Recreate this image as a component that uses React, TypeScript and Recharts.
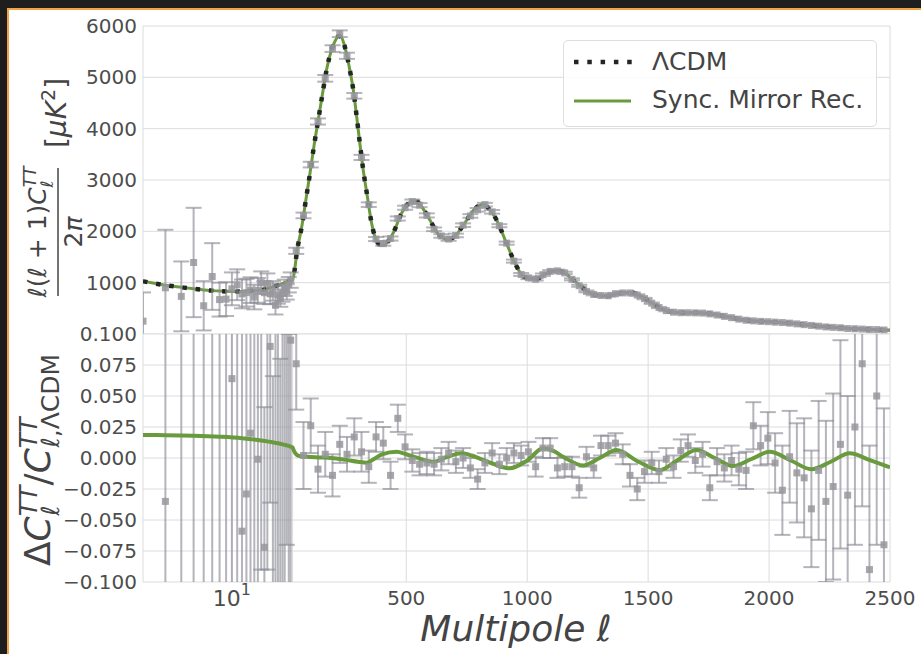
import React from "react"
import { ComposedChart, Line, Scatter, XAxis, YAxis, CartesianGrid, ErrorBar } from "recharts"

// hybrid multipole axis: log for 2 <= l <= 30, linear for 30 < l <= 2500
const SPLIT = 30
const LOG_W = 149.6
const LIN_W = 597.4
const toU = (l: number) =>
  l <= SPLIT ? (LOG_W * Math.log10(l / 2)) / Math.log10(SPLIT / 2) : LOG_W + ((l - SPLIT) * LIN_W) / (2500 - SPLIT)
const U_MAX = toU(2500)

const tickEll = [2, 10, 30, 500, 1000, 1500, 2000, 2500]
const tickText = ["", "10^1", "", "500", "1000", "1500", "2000", "2500"]
const ttTicks = [0, 1000, 2000, 3000, 4000, 5000, 6000]
const resTicks = [-0.1, -0.075, -0.05, -0.025, 0, 0.025, 0.05, 0.075, 0.1]

// LCDM best fit D_l (the mirror model sits on top of it in this panel)
const lcdmEll = [
  2, 3, 4, 5, 6, 7, 8, 10, 12, 14, 16, 18, 20, 22, 25, 28, 30, 40, 47, 60, 68, 85, 102, 118, 136, 154, 173, 190, 205,
  220, 230, 246, 264, 281, 295, 308, 322, 339, 354, 370, 391, 410, 419, 446, 481, 522, 540, 563, 597, 630, 671, 700, 740,
  780, 818, 845, 873, 914, 956, 983, 1003, 1038, 1080, 1121, 1150, 1189, 1225, 1258, 1290, 1327, 1370, 1424, 1460, 1493,
  1530, 1561, 1610, 1658, 1700, 1754, 1800, 1850, 1900, 1947, 2000, 2043, 2090, 2140, 2190, 2236, 2280, 2332, 2380, 2429,
  2500,
]
const lcdmTT = [
  1026, 950, 910, 880, 858, 845, 836, 828, 830, 838, 850, 868, 900, 935, 985, 1030, 1060, 1300, 1578, 1900, 2095, 2614,
  3135, 3650, 4169, 4688, 5205, 5520, 5700, 5800, 5790, 5594, 5205, 4752, 4233, 3716, 3197, 2678, 2225, 1901, 1740, 1730,
  1772, 1967, 2356, 2581, 2590, 2484, 2225, 1960, 1837, 1900, 2150, 2420, 2530, 2420, 2225, 1772, 1318, 1124, 1092, 1073,
  1180, 1240, 1200, 1059, 920, 801, 750, 735, 780, 813, 760, 671, 560, 476, 420, 412, 415, 398, 360, 314, 270, 249, 238,
  229, 210, 185, 160, 140, 125, 107, 95, 87, 74,
]

// sync. mirror recombination relative to LCDM
const syncEll = [
  2, 3, 5, 8, 12, 16, 20, 25, 30, 35, 47, 60, 90, 140, 190, 250, 300, 336, 365, 400, 460, 500, 540, 611, 670, 729, 770,
  804, 870, 928, 1000, 1066, 1110, 1148, 1231, 1300, 1369, 1460, 1548, 1620, 1699, 1775, 1850, 1925, 2002, 2090, 2175,
  2255, 2333, 2420, 2500,
]
const syncRes = [
  0.0185, 0.0184, 0.018, 0.0172, 0.016, 0.0145, 0.013, 0.011, 0.0085, 0.006, 0.0025, 0.0015, 0.001, 0.0005, 0, -0.0015,
  -0.003, -0.0038, -0.001, 0.003, 0.005, 0.003, 0.0005, -0.003, 0.001, 0.0038, 0.002, -0.0005, -0.0055, -0.0083, -0.002,
  0.0078, 0.0055, 0.001, -0.006, 0, 0.0065, -0.003, -0.0097, -0.002, 0.0065, 0, -0.0065, -0.001, 0.005, -0.002, -0.0091,
  -0.003, 0.0038, -0.002, -0.0075,
]

// unbinned low-l data
const lowEll = [2, 3, 4, 5, 6, 7, 8, 9, 10, 11, 12, 13, 14, 15, 16, 17, 18, 19, 20, 21, 22, 23, 24, 25, 26, 27, 28, 29]
const lowTT = [
  250, 900, 733, 1393, 550, 1120, 670, 680, 880, 960, 780, 805, 855, 720, 850, 1000, 805, 980, 780, 840, 560, 760, 700,
  790, 900, 820, 960, 1050,
]
const lowTTErr = [
  560, 1130, 680, 1065, 480, 650, 330, 330, 320, 300, 280, 270, 250, 240, 240, 220, 220, 200, 200, 190, 180, 170, 170,
  160, 160, 150, 150, 150,
]
const lowRes = [
  -0.76, -0.035, -0.19, 0.58, -0.36, 0.33, -0.2, -0.18, 0.064, 0.16, -0.059, -0.029, 0.02, -0.15, -0.001, 0.18, -0.072,
  0.13, 0.09, -0.18, -0.14, 0.15, -0.17, 0.12, -0.13, 0.16, -0.12, 0.095,
]
const lowResErr = [
  0.55, 1.2, 0.75, 1.2, 0.62, 0.78, 0.45, 0.42, 0.4, 0.36, 0.33, 0.31, 0.3, 0.29, 0.28, 0.27, 0.113, 0.22, 0.126, 0.246,
  0.26, 0.26, 0.25, 0.24, 0.24, 0.23, 0.22, 0.2,
]

// binned high-l data
const binEll = [
  45, 75, 105, 135, 165, 195, 225, 255, 285, 315, 345, 375, 405, 435, 465, 495, 525, 555, 585, 615, 645, 675, 705, 735,
  765, 795, 825, 855, 885, 915, 945, 975, 1005, 1035, 1065, 1095, 1125, 1155, 1185, 1215, 1245, 1275, 1305, 1335, 1365,
  1395, 1425, 1455, 1485, 1515, 1545, 1575, 1605, 1635, 1665, 1695, 1725, 1755, 1785, 1815, 1845, 1875, 1905, 1935, 1965,
  1995, 2025, 2055, 2085, 2115, 2145, 2175, 2205, 2235, 2265, 2295, 2325, 2355, 2385, 2415, 2445, 2475,
]
const binTT = [
  1620, 2310, 3300, 4140, 4980, 5560, 5850, 5420, 4640, 3440, 2520, 1850, 1760, 1860, 2250, 2460, 2580, 2510, 2310, 2040,
  1910, 1850, 1920, 2120, 2300, 2420, 2520, 2380, 2110, 1770, 1420, 1160, 1095, 1065, 1155, 1220, 1230, 1190, 1065, 940,
  830, 770, 750, 745, 785, 800, 800, 760, 690, 600, 515, 455, 425, 415, 415, 412, 408, 392, 370, 344, 318, 290, 268, 256,
  246, 240, 231, 223, 212, 197, 182, 167, 153, 138, 129, 121, 106, 102, 96, 88, 86, 78,
]
const binTTErr = [
  60, 55, 55, 60, 65, 65, 65, 60, 55, 50, 45, 40, 40, 40, 40, 40, 40, 40, 40, 35, 35, 35, 35, 35, 35, 35, 35, 35, 30, 30,
  30, 28, 26, 24, 24, 24, 24, 22, 20, 20, 18, 17, 16, 16, 16, 16, 16, 15, 14, 13, 12, 12, 12, 12, 12, 12, 12, 12, 12, 12,
  12, 12, 12, 12, 12, 12, 12, 12, 12, 12, 12, 12, 12, 12, 12, 12, 12, 12, 12, 12, 12, 12,
]
const binRes = [
  0.076, 0.002, 0.026, -0.009, 0.003, -0.014, 0.011, 0.003, 0.017, 0.005, -0.007, 0.017, 0.012, -0.014, 0.032, 0.009,
  -0.002, -0.005, -0.004, -0.005, -0.001, 0.004, -0.003, 0.0, -0.008, -0.017, -0.004, 0.004, -0.005, 0.0, 0.004, 0.002,
  0.005, -0.007, 0.008, 0.008, -0.008, -0.007, -0.007, -0.024, 0.001, -0.008, 0.01, 0.01, 0.012, 0.003, -0.014, -0.025,
  -0.011, -0.004, -0.011, -0.001, -0.007, 0.006, 0.01, -0.002, 0.003, -0.024, -0.003, -0.008, -0.002, -0.009, -0.01,
  0.026, 0.01, 0.016, -0.004, -0.026, 0.001, -0.012, -0.016, -0.041, -0.01, -0.035, -0.023, 0.011, -0.03, 0.025, 0.076,
  -0.09, 0.05, -0.07,
]
const binResErr = [
  0.037, 0.027, 0.022, 0.019, 0.018, 0.017, 0.015, 0.014, 0.015, 0.016, 0.013, 0.012, 0.013, 0.011, 0.011, 0.01, 0.009,
  0.009, 0.009, 0.009, 0.009, 0.009, 0.009, 0.008, 0.008, 0.008, 0.008, 0.008, 0.008, 0.008, 0.008, 0.008, 0.008, 0.008,
  0.008, 0.008, 0.008, 0.008, 0.008, 0.008, 0.008, 0.008, 0.008, 0.008, 0.008, 0.008, 0.009, 0.009, 0.009, 0.009, 0.009,
  0.009, 0.009, 0.009, 0.009, 0.01, 0.01, 0.01, 0.011, 0.011, 0.012, 0.013, 0.015, 0.019, 0.016, 0.021, 0.024, 0.036,
  0.037, 0.04, 0.048, 0.047, 0.056, 0.065, 0.075, 0.084, 0.08, 0.095, 0.115, 0.1, 0.12, 0.11,
]

const FONT = '"DejaVu Sans", sans-serif'
const GREEN = "#6a9a3e"
const GRID = "#dcdcdc"
const TXT = "#4d4d4d"

const lcdmRows = lcdmEll.map((l, i) => ({ u: toU(l), y: lcdmTT[i] }))
const syncResRows = syncEll.map((l, i) => ({ u: toU(l), y: syncRes[i] }))
const ttRows = [
  ...lowEll.map((l, i) => ({ u: toU(l), y: lowTT[i], err: lowTTErr[i] })),
  ...binEll.map((l, i) => ({ u: toU(l), y: binTT[i], err: binTTErr[i] })),
]
const resRows = [
  ...lowEll.map((l, i) => ({ u: toU(l), y: lowRes[i], err: lowResErr[i] })),
  ...binEll.map((l, i) => ({ u: toU(l), y: binRes[i], err: binResErr[i] })),
]
const xTicks = tickEll.map(toU)

// error bars are not clipped by recharts, so clip the data layers to the plot boxes
const clipCss = `
.topChart g[class*="recharts-errorBar"], .topChart g[class*="recharts-scatter"] { clip-path: url(#topPlotClip); }
.botChart g[class*="recharts-errorBar"], .botChart g[class*="recharts-scatter"] { clip-path: url(#botPlotClip); }
`

const Square = (p: any) => (
  <rect x={p.cx - 3.5} y={p.cy - 3.5} width={7} height={7} fill="rgba(150,150,156,0.85)" />
)

const XTick = (p: any) => {
  const label = tickText[p.index]
  if (!label) return <g />
  if (label === "10^1") {
    return (
      <text x={p.x} y={p.y + 24} textAnchor="middle" fontFamily={FONT} fontSize={22} fill={TXT}>
        10
        <tspan dy={-11} fontSize={16}>
          1
        </tspan>
      </text>
    )
  }
  return (
    <text x={p.x} y={p.y + 23} textAnchor="middle" fontFamily={FONT} fontSize={20} fill={TXT}>
      {label}
    </text>
  )
}

const fmtRes = (v: number) => (v < 0 ? "\u2212" : "") + Math.abs(v).toFixed(3)

export default function App() {
  return (
    <div style={{ position: "absolute", left: 0, top: 0, width: 921, height: 654, background: "#1e1e1e", overflow: "hidden" }}>
      <style>{clipCss}</style>
      <div
        style={{
          position: "absolute",
          left: 7,
          top: 8,
          width: 914,
          height: 646,
          background: "#fff",
          borderLeft: "2px solid #f0a444",
          borderTop: "2px solid #f0a444",
        }}
      />
      <svg width={0} height={0} style={{ position: "absolute" }}>
        <defs>
          <clipPath id="topPlotClip" clipPathUnits="userSpaceOnUse">
            <rect x={143} y={26} width={747} height={308} />
          </clipPath>
          <clipPath id="botPlotClip" clipPathUnits="userSpaceOnUse">
            <rect x={143} y={20} width={747} height={248} />
          </clipPath>
        </defs>
      </svg>
      <div className="topChart" style={{ position: "absolute", left: 0, top: 0 }}>
        <ComposedChart width={921} height={334} margin={{ top: 26, right: 31, bottom: 0, left: 0 }}>
          <CartesianGrid stroke={GRID} />
          <XAxis
            type="number"
            dataKey="u"
            domain={[0, U_MAX]}
            ticks={xTicks}
            interval={0}
            height={0}
            tick={false}
            axisLine={false}
            tickLine={false}
            allowDataOverflow
          />
          <YAxis
            type="number"
            dataKey="y"
            domain={[0, 6000]}
            ticks={ttTicks}
            interval={0}
            width={143}
            axisLine={false}
            tickLine={false}
            tickSize={0}
            tickMargin={6}
            tick={{ fontSize: 20, fill: TXT, fontFamily: FONT }}
            tickFormatter={(v) => (v === 0 ? "" : String(v))}
            allowDataOverflow
          />
          <Line data={lcdmRows} dataKey="y" type="monotone" stroke={GREEN} strokeWidth={3} dot={false} isAnimationActive={false} />
          <Line
            data={lcdmRows}
            dataKey="y"
            type="monotone"
            stroke="#252525"
            strokeWidth={4.5}
            strokeDasharray="4.5 8.8"
            dot={false}
            isAnimationActive={false}
          />
          <Scatter data={ttRows} dataKey="y" shape={Square} isAnimationActive={false}>
            <ErrorBar dataKey="err" direction="y" width={8} stroke="rgba(140,140,150,0.65)" strokeWidth={2} />
          </Scatter>
        </ComposedChart>
      </div>
      <div className="botChart" style={{ position: "absolute", left: 0, top: 314 }}>
        <ComposedChart width={921} height={340} margin={{ top: 20, right: 31, bottom: 0, left: 0 }}>
          <CartesianGrid stroke={GRID} />
          <XAxis
            type="number"
            dataKey="u"
            domain={[0, U_MAX]}
            ticks={xTicks}
            interval={0}
            height={72}
            axisLine={false}
            tickLine={false}
            tickSize={0}
            tickMargin={0}
            tick={<XTick />}
            allowDataOverflow
          />
          <YAxis
            type="number"
            dataKey="y"
            domain={[-0.1, 0.1]}
            ticks={resTicks}
            interval={0}
            width={143}
            axisLine={false}
            tickLine={false}
            tickSize={0}
            tickMargin={6}
            tick={{ fontSize: 20, fill: TXT, fontFamily: FONT }}
            tickFormatter={fmtRes}
            allowDataOverflow
          />
          <Scatter data={resRows} dataKey="y" shape={Square} isAnimationActive={false}>
            <ErrorBar dataKey="err" direction="y" width={8} stroke="rgba(140,140,150,0.65)" strokeWidth={2} />
          </Scatter>
          <Line data={syncResRows} dataKey="y" type="monotone" stroke={GREEN} strokeWidth={4} dot={false} isAnimationActive={false} />
        </ComposedChart>
      </div>
      <svg width={921} height={654} style={{ position: "absolute", left: 0, top: 0, pointerEvents: "none" }}>
        <g transform="translate(58, 232) rotate(-90)" fontFamily={FONT} fill="#444">
          <text x={0} y={-12} textAnchor="middle" fontSize={25}>
            <tspan fontStyle="italic">ℓ</tspan>(<tspan fontStyle="italic">ℓ</tspan> + 1)
            <tspan fontStyle="italic">C</tspan>
            <tspan dy={-10} fontSize={17} fontStyle="italic">
              TT
            </tspan>
            <tspan dx={-21} dy={17} fontSize={17} fontStyle="italic">
              ℓ
            </tspan>
          </text>
          <line x1={-64} x2={64} y1={0} y2={0} stroke="#444" strokeWidth={1.5} />
          <text x={0} y={24} textAnchor="middle" fontSize={25}>
            2<tspan fontStyle="italic">π</tspan>
          </text>
          <text x={119} y={8} textAnchor="middle" fontSize={28}>
            [<tspan fontStyle="italic">μK</tspan>
            <tspan dy={-11} fontSize={19}>
              2
            </tspan>
            <tspan dy={11}>]</tspan>
          </text>
        </g>
        <g transform="translate(50, 460) rotate(-90)" fontFamily={FONT} fill="#444">
          <text x={0} y={0} textAnchor="middle" fontSize={36}>
            Δ<tspan fontStyle="italic">C</tspan>
            <tspan dy={-13} fontSize={25} fontStyle="italic">
              TT
            </tspan>
            <tspan dx={-30} dy={22} fontSize={25} fontStyle="italic">
              ℓ
            </tspan>
            <tspan dx={20} dy={-9}>
              /
            </tspan>
            <tspan fontStyle="italic">C</tspan>
            <tspan dy={-13} fontSize={25} fontStyle="italic">
              TT
            </tspan>
            <tspan dx={-30} dy={22} fontSize={25}>
              <tspan fontStyle="italic">ℓ</tspan>,ΛCDM
            </tspan>
          </text>
        </g>
        <text x={516} y={641} textAnchor="middle" fontFamily={FONT} fontStyle="italic" fontSize={36} fill="#444">
          Multipole ℓ
        </text>
      </svg>
      <div
        style={{
          position: "absolute",
          left: 563,
          top: 40,
          width: 314,
          height: 87,
          boxSizing: "border-box",
          border: "1px solid #dedede",
          borderRadius: 5,
          background: "rgba(255,255,255,0.85)",
          fontFamily: FONT,
          fontSize: 25,
          color: "#444",
        }}
      >
        <svg width={60} height={10} style={{ position: "absolute", left: 10, top: 16 }}>
          <line x1={0} x2={60} y1={5} y2={5} stroke="#252525" strokeWidth={4.5} strokeDasharray="4.5 8.8" />
        </svg>
        <div style={{ position: "absolute", left: 88, top: 6, lineHeight: "30px" }}>ΛCDM</div>
        <svg width={60} height={10} style={{ position: "absolute", left: 10, top: 55 }}>
          <line x1={0} x2={57} y1={5} y2={5} stroke={GREEN} strokeWidth={3} />
        </svg>
        <div style={{ position: "absolute", left: 88, top: 44, lineHeight: "30px" }}>Sync. Mirror Rec.</div>
      </div>
    </div>
  )
}
